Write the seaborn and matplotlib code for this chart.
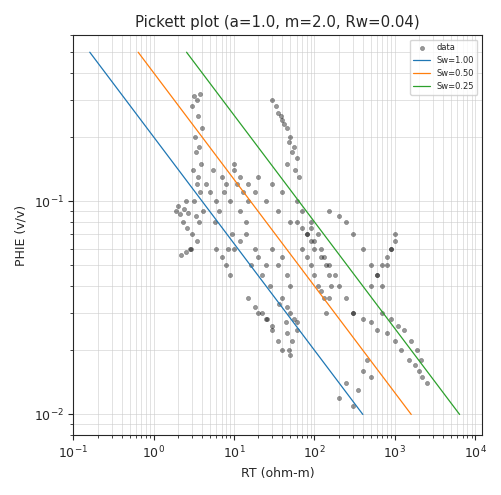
import numpy as np
import matplotlib
matplotlib.use("Agg")
import matplotlib.pyplot as plt
import seaborn as sns

a, m, Rw = 1.0, 2.0, 0.04
sw_values = [1.00, 0.50, 0.25]
phi_line = [0.5, 0.01]

rt = [3.2,3.5,3.8,3.0,3.6,4.0,3.3,3.7,3.4,3.9,3.1,3.6,3.5,3.8,3.2,4.1,3.4,3.7,3.0,3.5,
      2.8,2.5,2.2,1.9,2.0,2.4,2.7,2.6,2.3,2.9,2.1,2.5,
      4.5,5.0,5.5,6.0,7.0,8.0,6.5,5.8,7.5,9.0,10,11,12,9.5,8.5,13,15,14,
      6,7,8,9,10,12,14,16,18,20,22,25,28,30,35,40,45,50,
      10,12,15,18,20,25,30,35,40,50,60,70,80,90,
      30,35,40,45,50,55,60,38,42,48,52,33,58,65,45,
      40,45,50,55,60,36,44,52,48,
      70,80,90,100,110,120,130,140,150,160,100,120,140,110,130,90,150,
      60,70,80,90,100,120,150,180,200,250,300,
      150,200,250,300,400,500,600,700,800,900,1000,
      300,400,500,600,800,1000,1200,1500,1800,2000,2200,2500,
      700,900,1100,1300,1600,1900,2100,
      20,25,30,35,40,45,50,60,
      15,18,22,26,30,
      500,600,700,800,900,1000,
      200,250,300,350,400,450,500]
phie = [0.31,0.30,0.32,0.28,0.25,0.22,0.20,0.18,0.17,0.15,0.14,0.13,0.12,0.11,0.10,0.09,0.085,0.08,0.07,0.065,
        0.06,0.058,0.056,0.09,0.095,0.092,0.088,0.075,0.08,0.06,0.087,0.1,
        0.12,0.11,0.14,0.10,0.13,0.12,0.09,0.08,0.11,0.10,0.14,0.12,0.09,0.07,0.06,0.11,0.10,0.08,
        0.06,0.055,0.05,0.045,0.06,0.065,0.07,0.05,0.06,0.055,0.045,0.05,0.04,0.06,0.05,0.055,0.045,0.04,
        0.15,0.13,0.12,0.11,0.13,0.10,0.12,0.09,0.11,0.08,0.10,0.09,0.07,0.08,
        0.30,0.26,0.24,0.22,0.20,0.18,0.16,0.25,0.23,0.19,0.17,0.28,0.14,0.13,0.15,
        0.035,0.032,0.03,0.028,0.025,0.033,0.027,0.022,0.02,
        0.06,0.055,0.05,0.045,0.04,0.038,0.035,0.05,0.045,0.04,0.065,0.06,0.03,0.07,0.055,0.075,0.035,
        0.08,0.075,0.07,0.065,0.06,0.055,0.05,0.045,0.04,0.035,0.03,
        0.09,0.085,0.08,0.07,0.06,0.05,0.045,0.04,0.05,0.06,0.07,
        0.03,0.028,0.027,0.025,0.024,0.022,0.02,0.018,0.017,0.016,0.015,0.014,
        0.03,0.028,0.026,0.025,0.022,0.02,0.018,
        0.03,0.028,0.025,0.022,0.02,0.024,0.019,0.027,
        0.035,0.032,0.03,0.028,0.026,
        0.04,0.045,0.05,0.055,0.06,0.065,
        0.012,0.014,0.011,0.013,0.016,0.018,0.015]
n = min(len(rt), len(phie))
rt, phie = rt[:n], phie[:n]

sns.set_style("ticks")
plt.rcParams.update({"xtick.labelsize": 9, "ytick.labelsize": 9, "axes.labelsize": 9})
fig, ax = plt.subplots(figsize=(5.02, 4.95), dpi=100)
sns.scatterplot(x=rt, y=phie, ax=ax, s=9, color="black", alpha=0.4, edgecolor="black", linewidth=0.4, label="data")
for sw in sw_values:
    x = [a * Rw / (p ** m * sw ** 2) for p in phi_line]
    sns.lineplot(x=x, y=phi_line, ax=ax, linewidth=0.9, label=f"Sw={sw:.2f}", sort=False)
ax.set_xscale("log"); ax.set_yscale("log")
ax.set_xlim(0.1, 1.2e4); ax.set_ylim(0.008, 0.6)
ax.grid(True, which="both", color="#cccccc", linewidth=0.5, alpha=0.8)
ax.set_xlabel("RT (ohm-m)"); ax.set_ylabel("PHIE (v/v)")
ax.set_title("Pickett plot (a=1.0, m=2.0, Rw=0.04)", fontsize=10.8)
ax.legend(loc="upper right", fontsize=6)
fig.tight_layout()
fig.savefig("out.png")
